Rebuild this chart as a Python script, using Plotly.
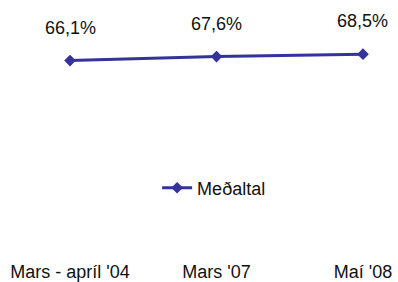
import plotly.graph_objects as go

categories = ["Mars - apríl '04", "Mars '07", "Maí '08"]
values = [66.1, 67.6, 68.5]
labels = ["66,1%", "67,6%", "68,5%"]
series_name = "Meðaltal"

color = "#333399"
font = dict(family="Liberation Sans, Arial, sans-serif", size=18, color="#111111")

fig = go.Figure()
fig.add_trace(go.Scatter(
    x=categories, y=values, mode="lines+markers", name=series_name,
    line=dict(color=color, width=3),
    marker=dict(symbol="diamond", size=9, color=color),
))
for c, v, t in zip(categories, values, labels):
    fig.add_annotation(x=c, y=v, text=t, showarrow=False, yanchor="middle",
                       yshift=33, font=font)

fig.update_layout(
    width=398, height=282,
    margin=dict(l=0, r=0, t=0, b=23),
    paper_bgcolor="white", plot_bgcolor="white",
    font=font,
    showlegend=True,
    legend=dict(orientation="h", x=0.538, xanchor="center", y=0.274, yanchor="middle",
                font=font, bgcolor="rgba(0,0,0,0)"),
    xaxis=dict(type="category", range=[-0.478, 2.239], showgrid=False, zeroline=False,
               showline=False, ticks="", tickfont=font),
    yaxis=dict(range=[-8.2, 88.8], visible=False, showgrid=False, zeroline=False),
)

fig.write_html("out.html", config={"displayModeBar": False, "staticPlot": True},
               post_script="document.body.style.margin='0';document.body.style.overflow='hidden';")
